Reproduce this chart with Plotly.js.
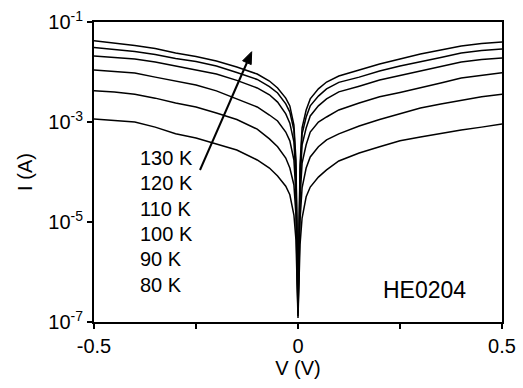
<!DOCTYPE html>
<html>
<head>
<meta charset="utf-8">
<script src="https://cdn.plot.ly/plotly-3.0.1.min.js"></script>
<style>html,body{margin:0;padding:0;background:#fff;}#chart{width:523px;height:388px;}</style>
</head>
<body>
<div id="chart"></div>
<script>
// Bias voltage (V)
const voltage = [-0.5,-0.45,-0.4,-0.35,-0.3,-0.25,-0.2,-0.15,-0.1,-0.07,-0.05,-0.03,-0.02,-0.01,-0.005,0,
  0.005,0.01,0.02,0.03,0.05,0.07,0.1,0.15,0.2,0.25,0.3,0.35,0.4,0.45,0.5];

// Current (A) for each temperature
const I_130K = [4.2e-2,3.8e-2,3.4e-2,2.95e-2,2.4e-2,2.04e-2,1.66e-2,1.26e-2,9.1e-3,6.6e-3,4.8e-3,3.0e-3,2.1e-3,8.7e-4,1.74e-4,2.75e-7,
  1.38e-4,7.6e-4,1.74e-3,2.9e-3,4.6e-3,6.3e-3,8.3e-3,1.1e-2,1.45e-2,1.82e-2,2.3e-2,2.75e-2,3.3e-2,3.7e-2,4.0e-2];
const I_120K = [3.1e-2,2.8e-2,2.57e-2,2.24e-2,1.86e-2,1.62e-2,1.32e-2,9.8e-3,7.1e-3,5.1e-3,3.8e-3,2.3e-3,1.58e-3,6.9e-4,1.2e-4,2.2e-7,
  1.0e-4,5.8e-4,1.26e-3,2.1e-3,3.3e-3,4.6e-3,6.2e-3,7.9e-3,1.05e-2,1.32e-2,1.58e-2,1.95e-2,2.4e-2,2.7e-2,2.9e-2];
const I_110K = [2.1e-2,1.95e-2,1.82e-2,1.58e-2,1.32e-2,1.12e-2,9.1e-3,6.8e-3,4.8e-3,3.5e-3,2.5e-3,1.45e-3,9.5e-4,4.0e-4,7.6e-5,1.74e-7,
  6.3e-5,3.5e-4,7.6e-4,1.32e-3,2.1e-3,2.9e-3,4.0e-3,5.2e-3,6.9e-3,8.5e-3,1.05e-2,1.26e-2,1.58e-2,1.78e-2,1.9e-2];
const I_100K = [1.1e-2,1.02e-2,9.5e-3,7.9e-3,6.5e-3,5.5e-3,4.2e-3,2.9e-3,2.0e-3,1.38e-3,1.05e-3,6.3e-4,4.2e-4,1.74e-4,3.5e-5,1.5e-7,
  3.0e-5,1.5e-4,3.5e-4,6.3e-4,1.0e-3,1.26e-3,1.74e-3,2.4e-3,3.2e-3,3.9e-3,4.8e-3,6.0e-3,7.6e-3,8.7e-3,9.7e-3];
const I_90K = [4.2e-3,4.0e-3,3.6e-3,3.0e-3,2.4e-3,2.0e-3,1.51e-3,1.12e-3,7.2e-4,4.6e-4,3.2e-4,1.9e-4,1.2e-4,5.5e-5,1.38e-5,1.32e-7,
  1.1e-5,4.8e-5,1.2e-4,2.0e-4,3.2e-4,4.4e-4,5.8e-4,8.3e-4,1.12e-3,1.45e-3,1.9e-3,2.3e-3,2.75e-3,3.2e-3,3.6e-3];
const I_80K = [1.15e-3,1.07e-3,1.0e-3,7.9e-4,5.8e-4,4.8e-4,3.6e-4,2.75e-4,1.74e-4,1.2e-4,8.3e-5,5.2e-5,3.5e-5,1.38e-5,4.4e-6,1.2e-7,
  3.5e-6,1.2e-5,3.2e-5,5.0e-5,7.9e-5,1.1e-4,1.66e-4,2.4e-4,3.2e-4,4.2e-4,5.0e-4,5.9e-4,6.9e-4,7.9e-4,9.1e-4];

const seriesNames = ["130 K","120 K","110 K","100 K","90 K","80 K"];
const seriesData = [I_130K, I_120K, I_110K, I_100K, I_90K, I_80K];

const xTickVals = [-0.5,0,0.5];
const xTickText = ["-0.5","0","0.5"];
const xMinorVals = [-0.25,0.25];
const yTickVals = [1e-7,1e-5,1e-3,1e-1];
const yTickText = ["10<sup>-7</sup>","10<sup>-5</sup>","10<sup>-3</sup>","10<sup>-1</sup>"];
const sampleName = "HE0204";

const FONT = "Liberation Sans, Arial, Helvetica, sans-serif";

const traces = seriesData.map((ys, i) => ({
  x: voltage, y: ys, type: "scatter", mode: "lines", name: seriesNames[i],
  line: {color: "#000", width: 1.5}, showlegend: false, hoverinfo: "skip"
}));

const labelY = [0.547, 0.463, 0.378, 0.294, 0.209, 0.124];
const annotations = seriesNames.map((t, i) => ({
  text: t, xref: "paper", yref: "paper", x: 0.107, y: labelY[i],
  xanchor: "left", yanchor: "middle", showarrow: false,
  font: {family: FONT, size: 20, color: "#000"}
}));
annotations.push({
  text: sampleName, xref: "paper", yref: "paper", x: 0.81, y: 0.106,
  xanchor: "center", yanchor: "middle", showarrow: false,
  font: {family: FONT, size: 23, color: "#000"}
});

// Arrow (temperature increasing), in plot-area fractions
const px = v => (v - 94) / 408, py = v => (322 - v) / 300;
const shapes = [
  {type: "line", xref: "paper", yref: "paper", x0: px(200), y0: py(170), x1: px(247), y1: py(62.5),
   line: {color: "#000", width: 2}},
  {type: "path", xref: "paper", yref: "paper",
   path: `M ${px(251.7)} ${py(51.7)} L ${px(251.2)} ${py(64.6)} L ${px(242.6)} ${py(60.8)} Z`,
   fillcolor: "#000", line: {color: "#000", width: 1}}
];

const layout = {
  width: 523, height: 388,
  margin: {l: 94, r: 21, t: 22, b: 66},
  paper_bgcolor: "#fff", plot_bgcolor: "#fff",
  font: {family: FONT, size: 20, color: "#000"},
  xaxis: {
    range: [-0.5, 0.5], tickmode: "array", tickvals: xTickVals, ticktext: xTickText,
    ticks: "outside", ticklen: 5, tickwidth: 1.5, tickcolor: "#000",
    minor: {tickmode: "array", tickvals: xMinorVals, ticks: "outside", ticklen: 5, tickwidth: 1.5, tickcolor: "#000", showgrid: false},
    showline: true, linewidth: 2, linecolor: "#000", mirror: true,
    showgrid: false, zeroline: false,
    title: {text: "V (V)", font: {family: FONT, size: 20}, standoff: 3},
    tickfont: {family: FONT, size: 20}
  },
  yaxis: {
    type: "log", range: [-7, -1], tickmode: "array", tickvals: yTickVals, ticktext: yTickText,
    ticks: "outside", ticklen: 5, tickwidth: 1.5, tickcolor: "#000",
    showline: true, linewidth: 2, linecolor: "#000", mirror: true,
    showgrid: false, zeroline: false,
    title: {text: "I (A)", font: {family: FONT, size: 20}, standoff: 10},
    tickfont: {family: FONT, size: 20}
  },
  annotations: annotations,
  shapes: shapes
};

Plotly.newPlot("chart", traces, layout, {staticPlot: true, displayModeBar: false});
</script>
</body>
</html>
